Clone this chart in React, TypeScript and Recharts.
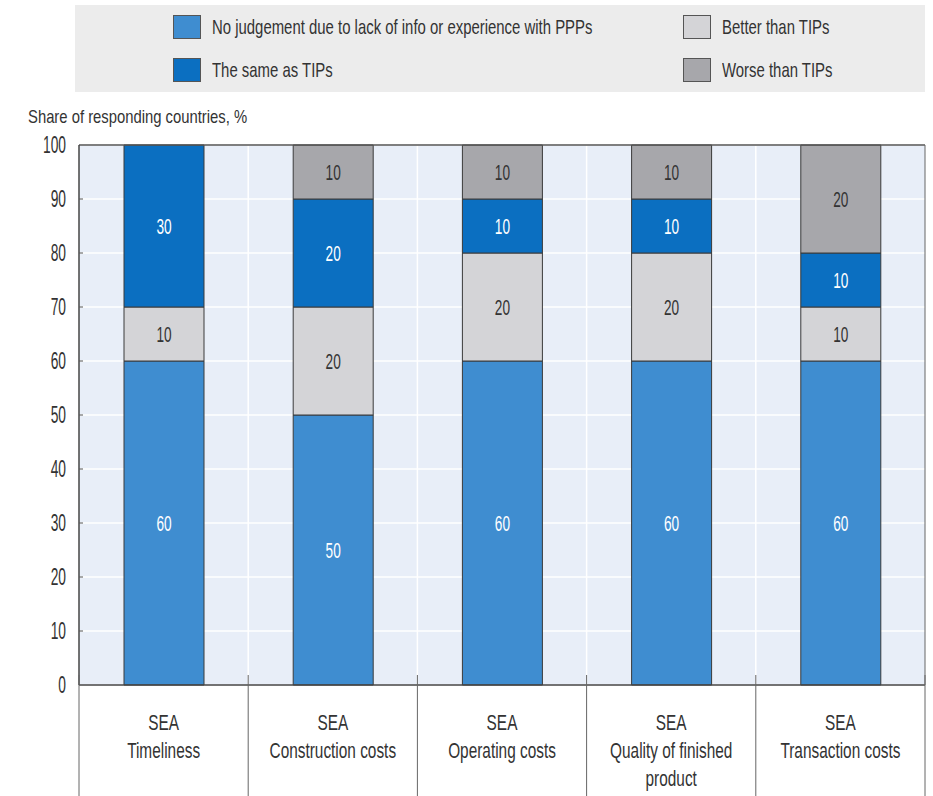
import { BarChart, Bar, XAxis, YAxis, CartesianGrid, LabelList, ReferenceLine } from "recharts";

const categories = [
  "SEA\nTimeliness",
  "SEA\nConstruction costs",
  "SEA\nOperating costs",
  "SEA\nQuality of finished\nproduct",
  "SEA\nTransaction costs",
];
const noJudgement = [60, 50, 60, 60, 60];
const betterThan = [10, 20, 20, 20, 10];
const sameAs = [30, 20, 10, 10, 10];
const worseThan = [0, 10, 10, 10, 20];
const yTicks = [0, 10, 20, 30, 40, 50, 60, 70, 80, 90, 100];

const data = categories.map((name, i) => ({
  name,
  noJudgement: noJudgement[i],
  better: betterThan[i],
  same: sameAs[i],
  worse: worseThan[i],
}));

// narrow font is not installed, so squeeze Liberation Sans horizontally
const FONT = "'Liberation Sans', Arial, sans-serif";
const TEXT = "#333";

const LEGEND = [
  { label: "No judgement due to lack of info or experience with PPPs", color: "#3f8dd0" },
  { label: "Better than TIPs", color: "#d4d4d7" },
  { label: "The same as TIPs", color: "#0b6fc1" },
  { label: "Worse than TIPs", color: "#a7a7ab" },
];

function YTick(props: any) {
  const { x, y, payload } = props;
  return (
    <g>
      <text
        transform={`translate(${x},${y + 8}) scale(0.6,1)`}
        textAnchor="end"
        fontFamily={FONT}
        fontSize={23}
        fill={TEXT}
      >
        {payload.value}
      </text>
      {payload.value > 0 && payload.value < 100 && (
        <line x1={x + 13} x2={x + 17} y1={y} y2={y} stroke="#555" />
      )}
    </g>
  );
}

function XTick(props: any) {
  const { x, y, payload, index } = props;
  const band = (props.width || 845) / categories.length;
  const lines = String(payload.value).split("\n");
  return (
    <g>
      <line x1={x - band / 2} x2={x - band / 2} y1={y - 10} y2={y + 111} stroke="#666" />
      {index === categories.length - 1 && (
        <line x1={x + band / 2} x2={x + band / 2} y1={y - 10} y2={y + 111} stroke="#666" />
      )}
      {lines.map((l, i) => (
        <text
          key={i}
          transform={`translate(${x},${y + 45 + i * 28}) scale(0.7,1)`}
          textAnchor="middle"
          fontFamily={FONT}
          fontSize={22}
          fill={TEXT}
        >
          {l}
        </text>
      ))}
    </g>
  );
}

const segLabel = (color: string) => (props: any) => {
  const { x, y, width, height, value } = props;
  if (!Number(value)) return null;
  return (
    <text
      transform={`translate(${x + width / 2},${y + height / 2 + 8}) scale(0.62,1)`}
      textAnchor="middle"
      fontFamily={FONT}
      fontSize={22}
      fill={color}
    >
      {value}
    </text>
  );
};

export default function App() {
  return (
    <div style={{ position: "absolute", left: 0, top: 0, width: 933, height: 796, background: "#fff" }}>
      <div
        style={{
          position: "absolute",
          left: 75,
          top: 5,
          width: 850,
          height: 87,
          background: "#ececec",
          fontFamily: FONT,
          fontSize: 21,
          color: TEXT,
        }}
      >
        {LEGEND.map((item, i) => (
          <div
            key={item.label}
            style={{
              position: "absolute",
              left: i % 2 === 0 ? 98 : 608,
              top: i < 2 ? 10 : 53,
              height: 24,
              display: "flex",
              alignItems: "center",
              whiteSpace: "nowrap",
            }}
          >
            <span
              style={{
                display: "inline-block",
                width: 26,
                height: 22,
                background: item.color,
                border: "1px solid #555",
                marginRight: 11,
              }}
            />
            <span style={{ display: "inline-block", transform: "scaleX(0.71)", transformOrigin: "left center" }}>
              {item.label}
            </span>
          </div>
        ))}
      </div>
      <div
        style={{
          position: "absolute",
          left: 28,
          top: 106,
          fontFamily: FONT,
          fontSize: 19,
          color: TEXT,
          whiteSpace: "nowrap",
          transform: "scaleX(0.78)",
          transformOrigin: "left center",
        }}
      >
        Share of responding countries, %
      </div>
      <BarChart
        width={933}
        height={796}
        data={data}
        margin={{ top: 145, right: 0, left: 0, bottom: 0 }}
        barSize={80}
      >
        <CartesianGrid
          fill="#e8eef8"
          stroke="#ffffff"
          strokeWidth={1.5}
          verticalCoordinatesGenerator={({ offset }: any) =>
            [1, 2, 3, 4].map((i) => offset.left + (offset.width * i) / categories.length)
          }
        />
        <XAxis
          dataKey="name"
          height={111}
          interval={0}
          tickSize={0}
          tickMargin={0}
          axisLine={{ stroke: "#444", strokeWidth: 1.5 }}
          tick={<XTick />}
        />
        <YAxis
          width={79}
          domain={[0, 100]}
          ticks={yTicks}
          tickSize={0}
          tickMargin={13}
          axisLine={{ stroke: "#444", strokeWidth: 1.5 }}
          tick={<YTick />}
        />
        <YAxis yAxisId="right" orientation="right" width={8} tick={false} tickLine={false} axisLine={{ stroke: "#666" }} />
        <ReferenceLine y={100} stroke="#555" strokeWidth={1.5} />
        <Bar dataKey="noJudgement" stackId="a" fill="#3f8dd0" stroke="#3a3a3a" isAnimationActive={false}>
          <LabelList dataKey="noJudgement" content={segLabel("#fff")} />
        </Bar>
        <Bar dataKey="better" stackId="a" fill="#d4d4d7" stroke="#3a3a3a" isAnimationActive={false}>
          <LabelList dataKey="better" content={segLabel(TEXT)} />
        </Bar>
        <Bar dataKey="same" stackId="a" fill="#0b6fc1" stroke="#3a3a3a" isAnimationActive={false}>
          <LabelList dataKey="same" content={segLabel("#fff")} />
        </Bar>
        <Bar dataKey="worse" stackId="a" fill="#a7a7ab" stroke="#3a3a3a" isAnimationActive={false}>
          <LabelList dataKey="worse" content={segLabel(TEXT)} />
        </Bar>
      </BarChart>
    </div>
  );
}
